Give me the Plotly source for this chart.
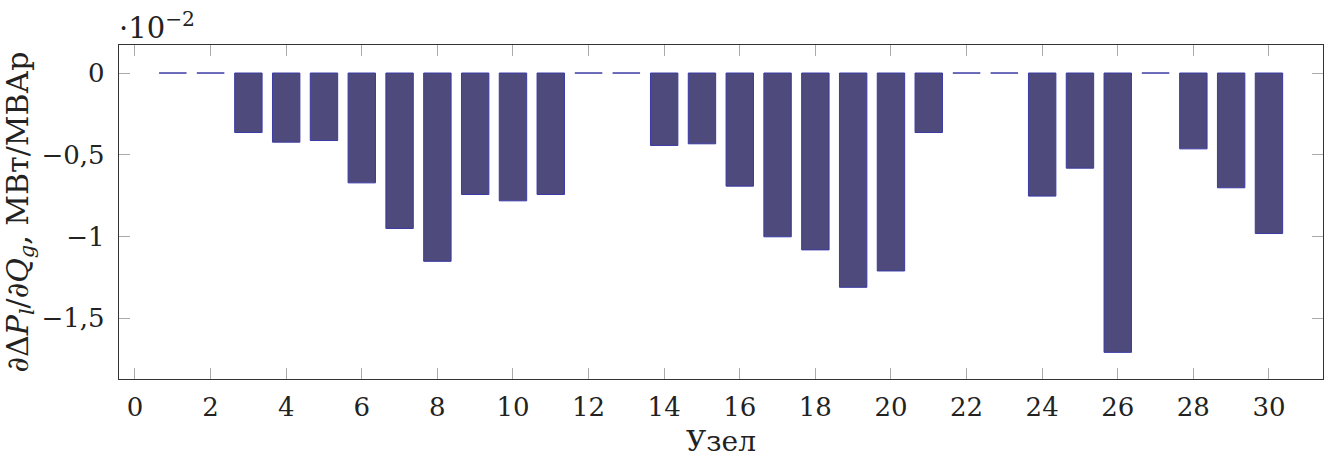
import plotly.graph_objects as go

nodes = list(range(1, 31))
values = [0, 0, -0.364, -0.423, -0.413, -0.672, -0.951, -1.152, -0.743, -0.782,
          -0.743, 0, 0, -0.443, -0.433, -0.692, -1.002, -1.082, -1.311, -1.211,
          -0.364, 0, 0, -0.753, -0.582, -1.709, 0, -0.464, -0.702, -0.982]

xticks = list(range(0, 31, 2))
yticks = [0, -0.5, -1, -1.5]
yticklabels = ["0", "−0,5", "−1", "−1,5"]

FONT = "DejaVu Serif"

fig = go.Figure()
fig.add_trace(go.Bar(
    x=nodes, y=values, width=0.725,
    marker=dict(color="#4e4a7c", line=dict(color="#3a3aa4", width=1)),
))

fig.update_layout(
    width=1335, height=458,
    margin=dict(l=119, r=12, t=45, b=79),
    paper_bgcolor="white", plot_bgcolor="white",
    showlegend=False,
    font=dict(family=FONT, size=26, color="#222"),
    xaxis=dict(range=[-0.423, 31.43], tickvals=xticks, ticks="inside", ticklen=11,
               tickcolor="#aaa", tickwidth=1.2, showline=True, linecolor="#333",
               linewidth=1.3, mirror="ticks", showgrid=False, zeroline=False,
               automargin=False, ticklabelstandoff=5,
               tickfont=dict(family=FONT, size=26),
               title=dict(text="Узел", font=dict(family=FONT, size=28), standoff=11)),
    yaxis=dict(range=[-1.872, 0.1715], tickvals=yticks, ticktext=yticklabels,
               ticks="inside", ticklen=11, tickcolor="#aaa", tickwidth=1.2,
               showline=True, linecolor="#333", linewidth=1.3, mirror="ticks",
               showgrid=False, zeroline=False, automargin=False,
               ticklabelstandoff=8,
               tickfont=dict(family=FONT, size=26),
               title=dict(text="∂Δ<i>P</i><sub><i>l</i></sub>/∂<i>Q</i><sub><i>g</i></sub>, МВт/МВАр",
                          font=dict(family=FONT, size=30), standoff=6)),
    annotations=[dict(text="·10<sup>−2</sup>", xref="paper", yref="paper",
                      x=0, y=1, xanchor="left", yanchor="bottom", showarrow=False,
                      font=dict(family=FONT, size=29), xshift=-2, yshift=-2)],
)

fig.write_html("out.html")
